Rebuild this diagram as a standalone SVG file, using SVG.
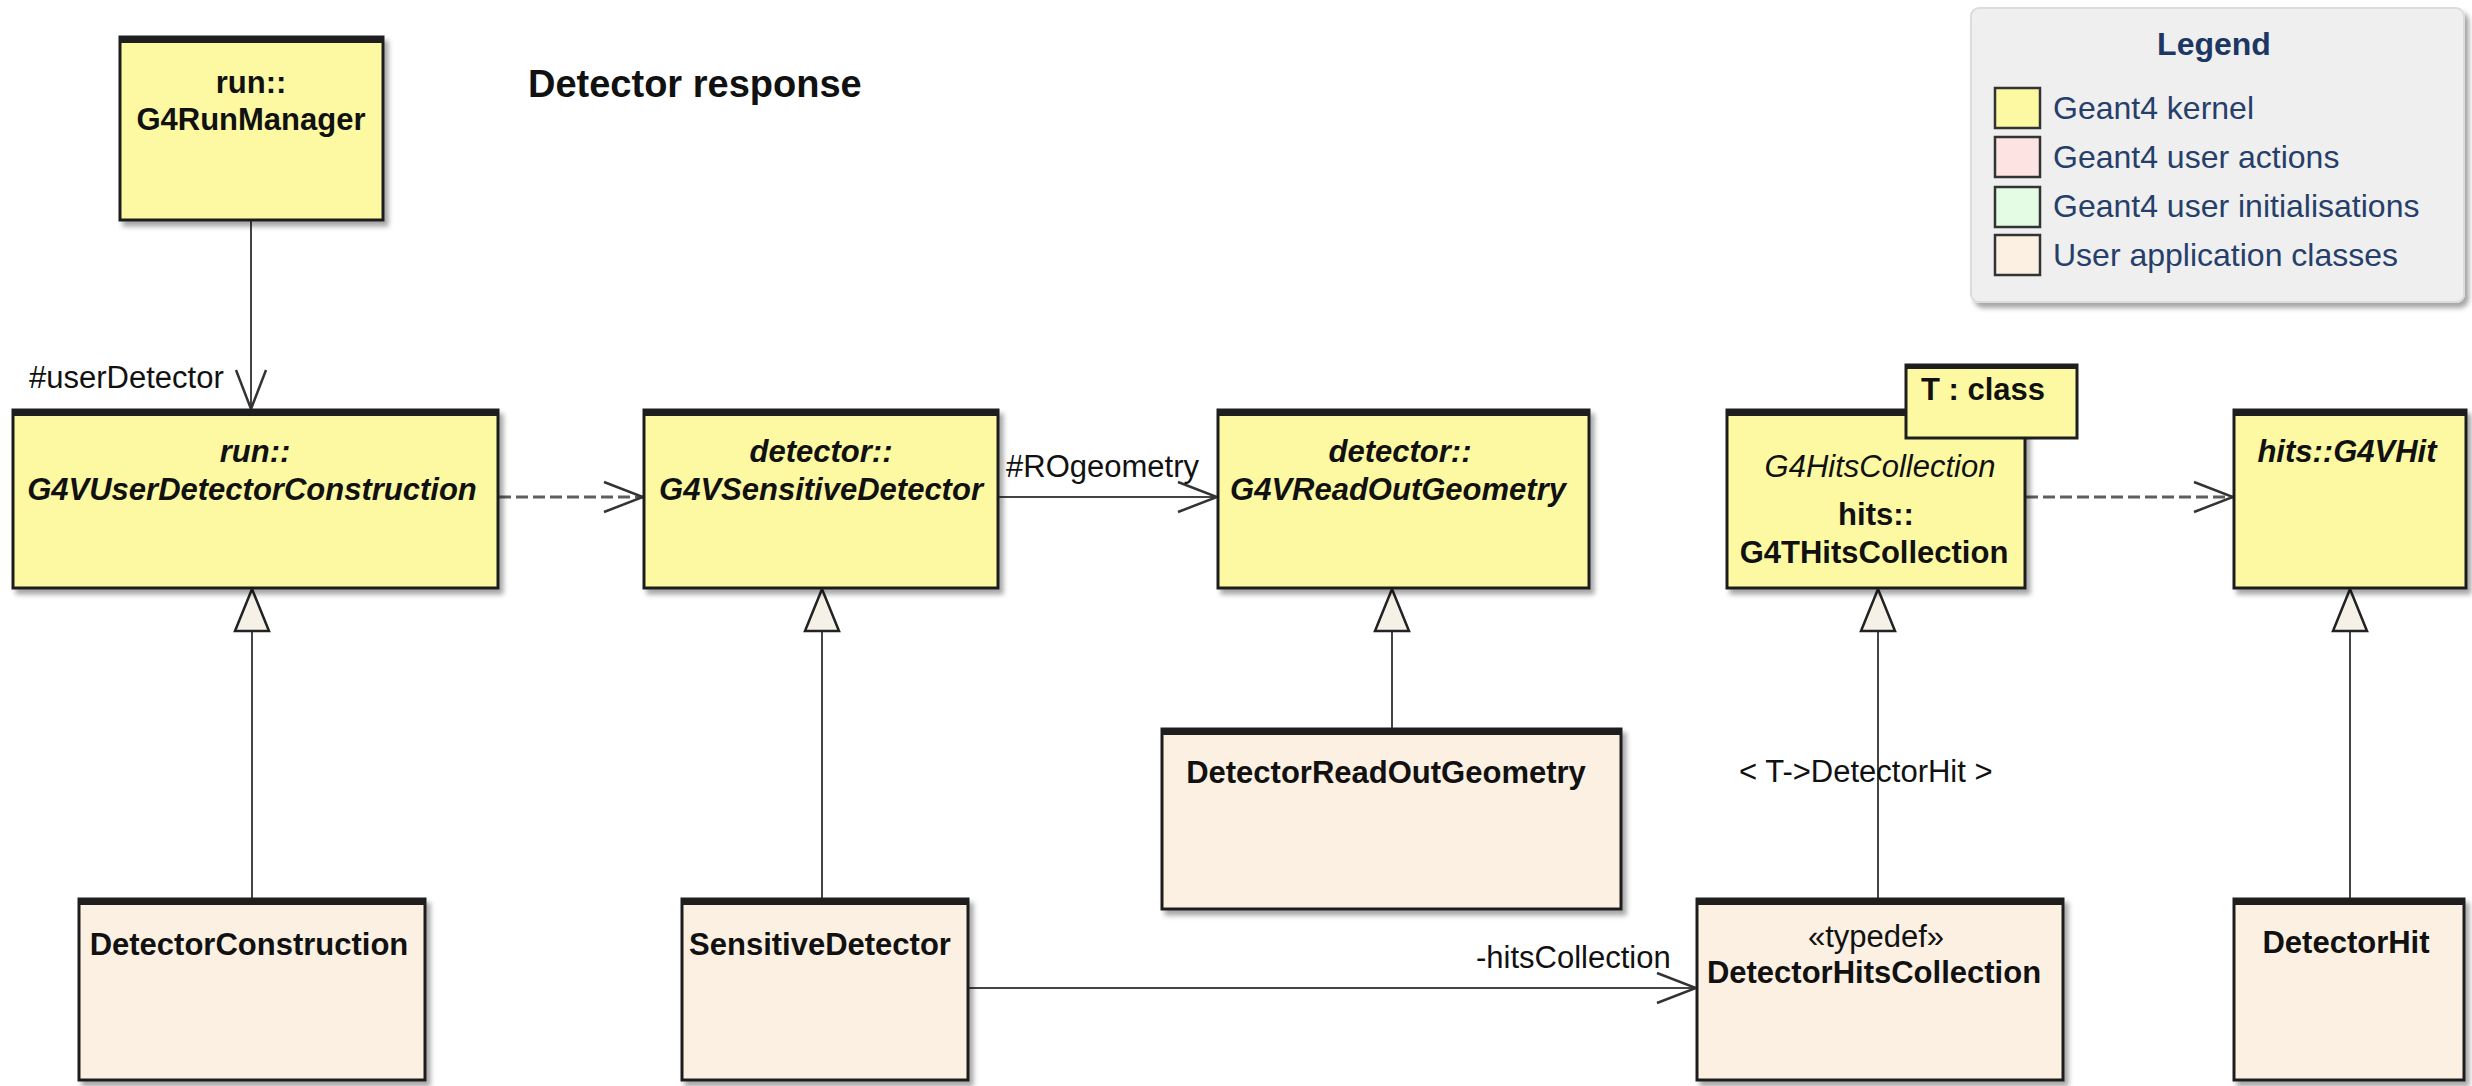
<svg xmlns="http://www.w3.org/2000/svg" width="2472" height="1086" viewBox="0 0 2472 1086">
<style>
text{font-family:"Liberation Sans",Arial,sans-serif;font-size:31px;fill:#111}
.b{font-weight:bold}
.i{font-style:italic}
.c{text-anchor:middle}
.k{fill:#fcf9a2;stroke:#1e1e1e;stroke-width:3}
.u{fill:#fbf0e2;stroke:#1e1e1e;stroke-width:3}
.bar{fill:#1e1e1e}
.ln{stroke:#444;stroke-width:2;fill:none}
.dash{stroke:#5e5e5e;stroke-width:3;fill:none;stroke-dasharray:12 5}
.lg{fill:#263f6a;font-size:32px}
</style>
<defs>
<filter id="sh" x="-10%" y="-10%" width="125%" height="125%">
<feDropShadow dx="4" dy="5" stdDeviation="2.5" flood-color="#000" flood-opacity="0.35"/>
</filter>
<marker id="open" markerUnits="userSpaceOnUse" markerWidth="42" markerHeight="34" viewBox="0 0 42 34" refX="40" refY="17" orient="auto">
<path d="M1,2 L40,17 L1,32" fill="none" stroke="#333" stroke-width="2.5"/>
</marker>
<marker id="tri" markerUnits="userSpaceOnUse" markerWidth="46" markerHeight="38" viewBox="0 0 46 38" refX="44" refY="19" orient="auto">
<path d="M2,2 L44,19 L2,36 Z" fill="#f6f1e7" stroke="#222" stroke-width="2.5"/>
</marker>
</defs>
<rect width="2472" height="1086" fill="#fff"/>

<text class="b" x="528" y="97" style="font-size:38px">Detector response</text>

<g id="legend">
<rect x="1971" y="8" width="493" height="294" rx="8" fill="#efefef" stroke="#dcdcdc" stroke-width="2" filter="url(#sh)"/>
<text class="b c" x="2214" y="55" style="fill:#1c3763;font-size:32px">Legend</text>
<rect x="1995" y="88" width="45" height="40" fill="#fcf9a2" stroke="#333" stroke-width="2.5"/>
<rect x="1995" y="137" width="45" height="40" fill="#fde4e2" stroke="#333" stroke-width="2.5"/>
<rect x="1995" y="187" width="45" height="40" fill="#e4fbe4" stroke="#333" stroke-width="2.5"/>
<rect x="1995" y="235" width="45" height="40" fill="#fbf0e2" stroke="#333" stroke-width="2.5"/>
<text class="lg" x="2053" y="119">Geant4 kernel</text>
<text class="lg" x="2053" y="168">Geant4 user actions</text>
<text class="lg" x="2053" y="217">Geant4 user initialisations</text>
<text class="lg" x="2053" y="266">User application classes</text>
</g>

<g id="connectors">
<line class="ln" x1="251" y1="221" x2="251" y2="409" marker-end="url(#open)"/>
<text x="29" y="388">#userDetector</text>
<line class="dash" x1="499" y1="497" x2="643" y2="497" marker-end="url(#open)"/>
<line class="ln" x1="999" y1="497" x2="1217" y2="497" marker-end="url(#open)"/>
<text x="1006" y="477">#ROgeometry</text>
<line class="dash" x1="2026" y1="497" x2="2233" y2="497" marker-end="url(#open)"/>
<line class="ln" x1="252" y1="898" x2="252" y2="589" marker-end="url(#tri)"/>
<line class="ln" x1="822" y1="898" x2="822" y2="589" marker-end="url(#tri)"/>
<line class="ln" x1="1392" y1="728" x2="1392" y2="589" marker-end="url(#tri)"/>
<line class="ln" x1="1878" y1="898" x2="1878" y2="589" marker-end="url(#tri)"/>
<text x="1739" y="782">&lt; T-&gt;DetectorHit &gt;</text>
<line class="ln" x1="2350" y1="898" x2="2350" y2="589" marker-end="url(#tri)"/>
<line class="ln" x1="969" y1="988" x2="1696" y2="988" marker-end="url(#open)"/>
<text x="1476" y="968">-hitsCollection</text>
</g>

<g id="G4RunManager">
<rect class="k" x="120" y="37" width="263" height="183" filter="url(#sh)"/>
<rect class="bar" x="120" y="36" width="263" height="7"/>
<text class="b c" x="251" y="93">run::</text>
<text class="b c" x="251" y="130">G4RunManager</text>
</g>

<g id="G4VUserDetectorConstruction">
<rect class="k" x="13" y="410" width="485" height="178" filter="url(#sh)"/>
<rect class="bar" x="13" y="409" width="485" height="7"/>
<text class="b i c" x="255" y="462">run::</text>
<text class="b i c" x="252" y="500">G4VUserDetectorConstruction</text>
</g>

<g id="G4VSensitiveDetector">
<rect class="k" x="644" y="410" width="354" height="178" filter="url(#sh)"/>
<rect class="bar" x="644" y="409" width="354" height="7"/>
<text class="b i c" x="821" y="462">detector::</text>
<text class="b i c" x="821" y="500">G4VSensitiveDetector</text>
</g>

<g id="G4VReadOutGeometry">
<rect class="k" x="1218" y="410" width="371" height="178" filter="url(#sh)"/>
<rect class="bar" x="1218" y="409" width="371" height="7"/>
<text class="b i c" x="1400" y="462">detector::</text>
<text class="b i c" x="1398" y="500">G4VReadOutGeometry</text>
</g>

<g id="G4THitsCollection">
<rect class="k" x="1727" y="410" width="298" height="178" filter="url(#sh)"/>
<rect class="bar" x="1727" y="409" width="298" height="7"/>
<text class="i c" x="1880" y="477">G4HitsCollection</text>
<text class="b c" x="1876" y="525">hits::</text>
<text class="b c" x="1874" y="563">G4THitsCollection</text>
<rect class="k" x="1906" y="365" width="171" height="73"/>
<rect class="bar" x="1906" y="364" width="171" height="5"/>
<text class="b" x="1921" y="400">T : class</text>
</g>

<g id="G4VHit">
<rect class="k" x="2234" y="410" width="232" height="178" filter="url(#sh)"/>
<rect class="bar" x="2234" y="409" width="232" height="7"/>
<text class="b i c" x="2347" y="462">hits::G4VHit</text>
</g>

<g id="DetectorConstruction">
<rect class="u" x="79" y="899" width="346" height="181" filter="url(#sh)"/>
<rect class="bar" x="79" y="898" width="346" height="7"/>
<text class="b c" x="249" y="955">DetectorConstruction</text>
</g>

<g id="SensitiveDetector">
<rect class="u" x="682" y="899" width="286" height="181" filter="url(#sh)"/>
<rect class="bar" x="682" y="898" width="286" height="7"/>
<text class="b c" x="820" y="955">SensitiveDetector</text>
</g>

<g id="DetectorReadOutGeometry">
<rect class="u" x="1162" y="729" width="459" height="180" filter="url(#sh)"/>
<rect class="bar" x="1162" y="728" width="459" height="7"/>
<text class="b c" x="1386" y="783">DetectorReadOutGeometry</text>
</g>

<g id="DetectorHitsCollection">
<rect class="u" x="1697" y="899" width="366" height="181" filter="url(#sh)"/>
<rect class="bar" x="1697" y="898" width="366" height="7"/>
<text class="c" x="1876" y="947">«typedef»</text>
<text class="b c" x="1874" y="983">DetectorHitsCollection</text>
</g>

<g id="DetectorHit">
<rect class="u" x="2234" y="899" width="230" height="181" filter="url(#sh)"/>
<rect class="bar" x="2234" y="898" width="230" height="7"/>
<text class="b c" x="2346" y="953">DetectorHit</text>
</g>
</svg>
